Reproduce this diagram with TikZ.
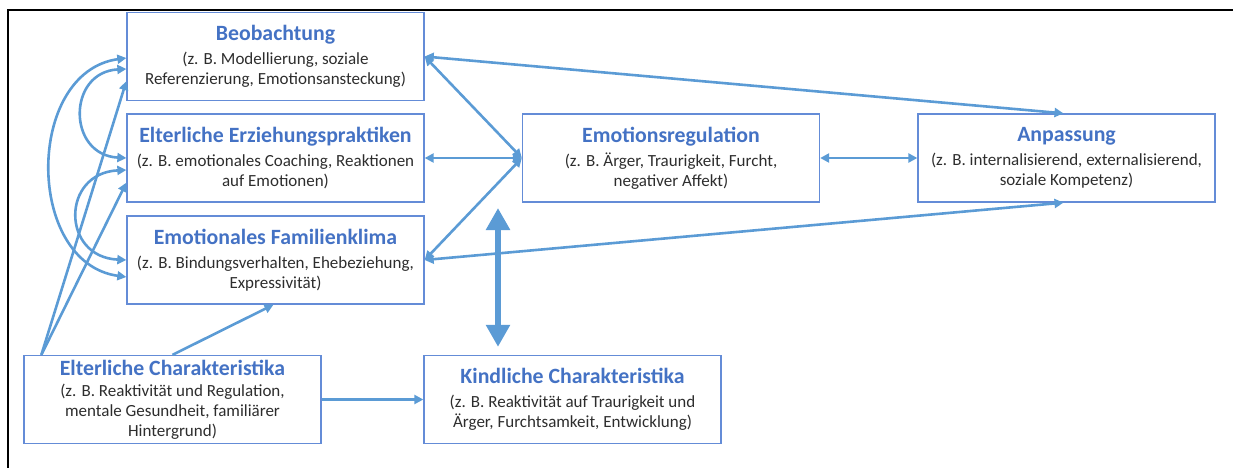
\documentclass[tikz,border=0pt]{standalone}
\usepackage{fontspec}
\setmainfont{Carlito}
\usetikzlibrary{arrows.meta,positioning}

\definecolor{linkblue}{RGB}{91,155,213}
\definecolor{boxblue}{RGB}{100,140,215}
\definecolor{titleblue}{RGB}{68,114,196}
\definecolor{bodygray}{RGB}{45,45,45}
\newcommand{\boxtitle}[1]{{\fontsize{21.8}{24}\selectfont\bfseries\color{titleblue}#1}}

\begin{document}
\begin{tikzpicture}[
    x=1pt, y=-1pt,
    box/.style={rectangle, draw=boxblue, line width=1.3pt, minimum width=297pt, minimum height=88pt, align=center, text=bodygray, font=\fontsize{17}{20}\selectfont, inner sep=2pt},
    arrow/.style={{Triangle[length=9pt,width=9pt]}-{Triangle[length=9pt,width=9pt]}, line width=2.6pt, draw=linkblue},
    oneway/.style={-{Triangle[length=9pt,width=9pt]}, line width=2.6pt, draw=linkblue},
    bigarrow/.style={{Triangle[length=22pt,width=23pt]}-{Triangle[length=22pt,width=23pt]}, line width=6pt, draw=linkblue}
]
\useasboundingbox (0,0) rectangle (1233,468);

% Frame
\draw[line width=2pt] (8,468) -- (8,10) -- (1233,10);

% Family processes
\node[box] (beob) at (275.5,56.5) {\boxtitle{Beobachtung}\\[4pt](z. B. Modellierung, soziale\\Referenzierung, Emotionsansteckung)};
\node[box] (erz) at (275.5,158) {\boxtitle{Elterliche Erziehungspraktiken}\\[4pt](z. B. emotionales Coaching, Reaktionen\\auf Emotionen)};
\node[box] (fam) at (275.5,260) {\boxtitle{Emotionales Familienklima}\\[4pt](z. B. Bindungsverhalten, Ehebeziehung,\\Expressivität)};

% Child outcomes
\node[box] (emo) at (671,158) {\boxtitle{Emotionsregulation}\\[4pt](z. B. Ärger, Traurigkeit, Furcht,\\negativer Affekt)};
\node[box] (anp) at (1066.5,158) {\boxtitle{Anpassung}\\[4pt](z. B. internalisierend, externalisierend,\\soziale Kompetenz)};

% Characteristics
\node[box] (elt) at (172.5,399.5) {\boxtitle{Elterliche Charakteristika}\\[1pt](z. B. Reaktivität und Regulation,\\mentale Gesundheit, familiärer\\Hintergrund)};
\node[box] (kind) at (572.5,399.5) {\boxtitle{Kindliche Charakteristika}\\[4pt](z. B. Reaktivität auf Traurigkeit und\\Ärger, Furchtsamkeit, Entwicklung)};

\coordinate (hub) at (498,208);

% Arrows
\draw[arrow] (beob.east) -- ([xshift=-3pt]anp.north);
\draw[arrow] (beob.east) -- (emo.west);
\draw[arrow] (erz.east) -- (emo.west);
\draw[arrow] (fam.east) -- (emo.west);
\draw[arrow] (fam.east) -- ([xshift=-3pt]anp.south);
\draw[arrow] (emo.east) -- (anp.west);
\draw[bigarrow, shorten >=8pt] (hub) -- (hub |- kind.north);
\draw[oneway] (elt.east) -- (kind.west);
\draw[oneway] (elt.north) -- ([xshift=-2pt]fam.south);
\draw[oneway] ([xshift=18pt]elt.north west) -- ([yshift=20pt]beob.south west);
\draw[oneway] ([xshift=18pt]elt.north west) -- ([yshift=20pt]erz.south west);

% Curved links
\draw[arrow] ([yshift=-1.5pt]beob.west) .. controls (25,72) and (25,263) .. ([yshift=-17pt]fam.west);
\draw[arrow] ([yshift=-12.5pt]beob.west) .. controls (67,72) and (67,155) .. (erz.west);
\draw[arrow] ([yshift=-12pt]erz.west) .. controls (61,173) and (61,257) .. (fam.west);

\end{tikzpicture}
\end{document}
